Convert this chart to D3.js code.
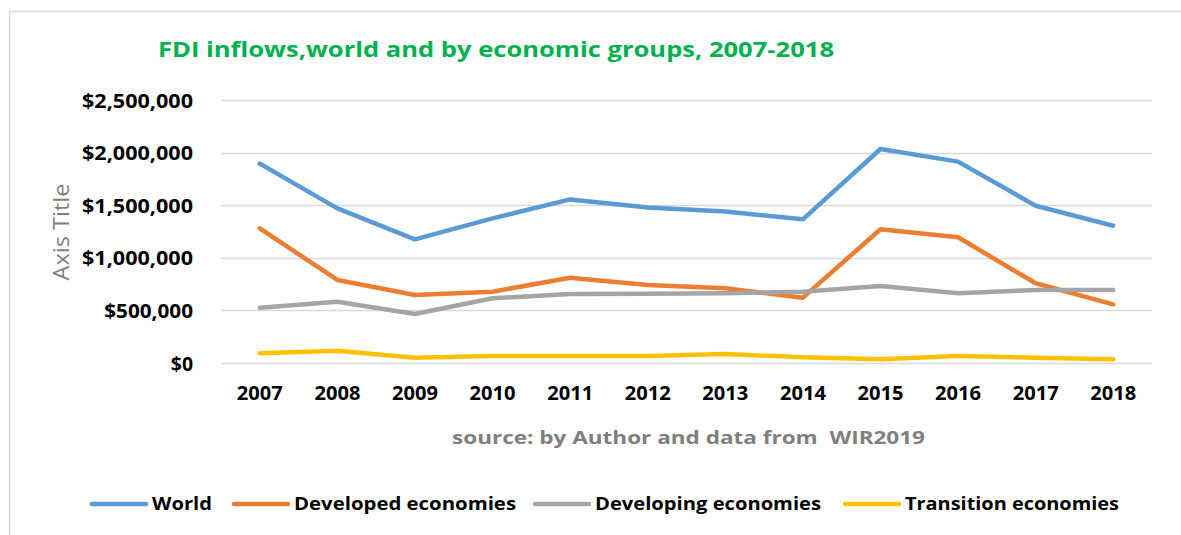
<!DOCTYPE html>
<html><head><meta charset="utf-8">
<script src="https://cdn.jsdelivr.net/npm/d3@7/dist/d3.min.js"></script>
<style>body{margin:0;background:#fff;} svg{display:block;}</style>
</head><body>
<script>
const years = ["2007","2008","2009","2010","2011","2012","2013","2014","2015","2016","2017","2018"];
const world = [1895000,1470000,1175000,1375000,1555000,1478000,1440000,1366000,2034000,1914000,1495000,1305000];
const developed = [1280000,789000,646000,678000,811000,741000,710000,621000,1271000,1195000,758000,558000];
const developing = [526000,583000,466000,615000,656000,658000,662000,678000,732000,662000,694000,694000];
const transition = [92000,117000,50000,67000,67000,67000,86000,54000,35000,67000,50000,35000];
const seriesNames = ["World","Developed economies","Developing economies","Transition economies"];
const colors = ["#5B9BD5","#ED7D31","#A5A5A5","#FFC000"];
const yTicks = [0,500000,1000000,1500000,2000000,2500000];
const titleText = "FDI inflows,world and by economic groups, 2007-2018";
const sourceText = "source: by Author and data from\u00a0 WIR2019";
const axisTitle = "Axis Title";

const W = 1181, H = 535;
const font = "'Open Sans', sans-serif";
const svg = d3.select("body").append("svg").attr("width", W).attr("height", H);

// chart border
svg.append("rect").attr("x",9.5).attr("y",11.5).attr("width",W+20).attr("height",H+20)
  .attr("fill","#fff").attr("stroke","#D9D9D9").attr("stroke-width",1.5);

const x = d3.scaleBand().domain(years).range([221,1152]);
const y = d3.scaleLinear().domain([0,2500000]).range([363,100]);

// gridlines
svg.append("g").selectAll("line").data(yTicks).join("line")
  .attr("x1",221).attr("x2",1152)
  .attr("y1",d=>Math.round(y(d))+0.5).attr("y2",d=>Math.round(y(d))+0.5)
  .attr("stroke","#D9D9D9").attr("stroke-width",1.5);

// y axis labels
const fmt = d => "$" + d3.format(",")(d);
const yAxis = d3.axisLeft(y).tickValues(yTicks).tickFormat(fmt).tickSize(0).tickPadding(0);
const gy = svg.append("g").attr("transform","translate(193,0)").call(yAxis);
gy.select(".domain").remove();
gy.selectAll("text").attr("font-family",font).attr("font-weight","bold").attr("font-size","20px").attr("fill","#000").attr("dy","0.35em")
  .attr("textLength",d=>fmt(d).length*11.1).attr("lengthAdjust","spacingAndGlyphs");

// x axis labels
const xAxis = d3.axisBottom(x).tickSize(0).tickPadding(0);
const gx = svg.append("g").attr("transform","translate(0,386)").call(xAxis);
gx.select(".domain").remove();
gx.selectAll("text").attr("font-family",font).attr("font-weight","bold").attr("font-size","20px").attr("fill","#000").attr("dy","0.7em")
  .attr("textLength",46).attr("lengthAdjust","spacingAndGlyphs");

// lines
const data = [world, developed, developing, transition];
const line = d3.line().x((d,i)=>x(years[i])+x.bandwidth()/2).y(d=>y(d));
svg.append("g").selectAll("path").data(data).join("path")
  .attr("d", line).attr("fill","none")
  .attr("stroke",(d,i)=>colors[i]).attr("stroke-width",4.5)
  .attr("stroke-linecap","round").attr("stroke-linejoin","round");

// title
svg.append("text").attr("x",158).attr("y",57).text(titleText)
  .attr("font-family",font).attr("font-weight","bold").attr("font-size","21px").attr("fill","#00B050")
  .attr("textLength",676).attr("lengthAdjust","spacingAndGlyphs");

// axis title
svg.append("text").attr("transform","translate(69,232) rotate(-90)").attr("text-anchor","middle")
  .text(axisTitle).attr("font-family",font).attr("font-size","22px").attr("fill","#7F7F7F")
  .attr("textLength",97).attr("lengthAdjust","spacingAndGlyphs");

// source
svg.append("text").attr("x",452).attr("y",444).text(sourceText)
  .attr("font-family",font).attr("font-weight","bold").attr("font-size","18.5px").attr("fill","#7F7F7F")
  .attr("textLength",473).attr("lengthAdjust","spacingAndGlyphs");

// legend
const legX = [92,234,535,845];
const legTextW = [60,222,226,214];
const lg = svg.append("g").selectAll("g").data(seriesNames).join("g")
  .attr("transform",(d,i)=>`translate(${legX[i]},504)`);
lg.append("line").attr("x1",0).attr("x2",54).attr("y1",0).attr("y2",0)
  .attr("stroke",(d,i)=>colors[i]).attr("stroke-width",4.5).attr("stroke-linecap","round");
lg.append("text").attr("x",60).attr("y",0).attr("dy","0.36em").text(d=>d)
  .attr("font-family",font).attr("font-weight","bold").attr("font-size","18px").attr("fill","#000")
  .attr("textLength",(d,i)=>legTextW[i]).attr("lengthAdjust","spacingAndGlyphs");
</script>
</body></html>
